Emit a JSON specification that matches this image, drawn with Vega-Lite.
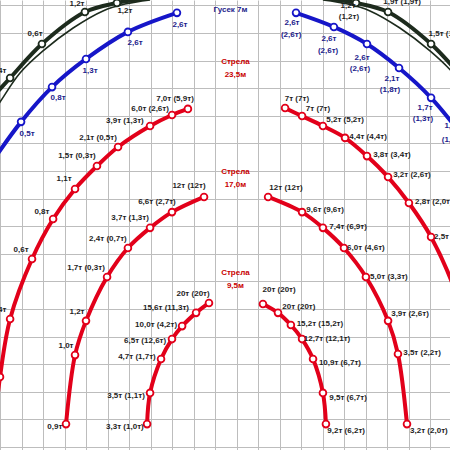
{
  "$schema": "https://vega.github.io/schema/vega-lite/v6.json",
  "width": 450,
  "height": 450,
  "autosize": "none",
  "padding": 0,
  "background": "white",
  "config": {"view": {"stroke": null}},
  "resolve": {"scale": {"color": "independent", "stroke": "independent"}},
  "datasets": {
    "curves": [
      {"id": "outer-L", "c": "outer", "i": 0, "x": -11.47, "y": 12.57, "m": false},
      {"id": "outer-L", "c": "outer", "i": 1, "x": -10.53, "y": 13.37, "m": true},
      {"id": "outer-L", "c": "outer", "i": 2, "x": -9.05, "y": 14.6, "m": true},
      {"id": "outer-L", "c": "outer", "i": 3, "x": -7.05, "y": 15.76, "m": true},
      {"id": "outer-L", "c": "outer", "i": 4, "x": -5.56, "y": 16.09, "m": true},
      {"id": "outer-L", "c": "outer", "i": 5, "x": -4.26, "y": 16.25, "m": false},
      {"id": "outer-R", "c": "outer", "i": 0, "x": 11.47, "y": 12.57, "m": false},
      {"id": "outer-R", "c": "outer", "i": 1, "x": 10.53, "y": 13.37, "m": true},
      {"id": "outer-R", "c": "outer", "i": 2, "x": 9.05, "y": 14.6, "m": true},
      {"id": "outer-R", "c": "outer", "i": 3, "x": 7.05, "y": 15.76, "m": true},
      {"id": "outer-R", "c": "outer", "i": 4, "x": 5.56, "y": 16.09, "m": true},
      {"id": "outer-R", "c": "outer", "i": 5, "x": 4.26, "y": 16.25, "m": false},
      {"id": "thin-L", "c": "thin", "i": 0, "x": -11.47, "y": 11.96, "m": false},
      {"id": "thin-L", "c": "thin", "i": 1, "x": -11.0, "y": 12.5, "m": false},
      {"id": "thin-L", "c": "thin", "i": 2, "x": -10.07, "y": 13.55, "m": false},
      {"id": "thin-L", "c": "thin", "i": 3, "x": -9.0, "y": 14.35, "m": false},
      {"id": "thin-L", "c": "thin", "i": 4, "x": -7.6, "y": 15.18, "m": false},
      {"id": "thin-L", "c": "thin", "i": 5, "x": -6.21, "y": 15.8, "m": false},
      {"id": "thin-L", "c": "thin", "i": 6, "x": -5.19, "y": 16.05, "m": false},
      {"id": "thin-L", "c": "thin", "i": 7, "x": -4.02, "y": 16.2, "m": false},
      {"id": "thin-R", "c": "thin", "i": 0, "x": 11.47, "y": 11.96, "m": false},
      {"id": "thin-R", "c": "thin", "i": 1, "x": 11.0, "y": 12.5, "m": false},
      {"id": "thin-R", "c": "thin", "i": 2, "x": 10.07, "y": 13.55, "m": false},
      {"id": "thin-R", "c": "thin", "i": 3, "x": 9.0, "y": 14.35, "m": false},
      {"id": "thin-R", "c": "thin", "i": 4, "x": 7.6, "y": 15.18, "m": false},
      {"id": "thin-R", "c": "thin", "i": 5, "x": 6.21, "y": 15.8, "m": false},
      {"id": "thin-R", "c": "thin", "i": 6, "x": 5.19, "y": 16.05, "m": false},
      {"id": "thin-R", "c": "thin", "i": 7, "x": 4.02, "y": 16.2, "m": false},
      {"id": "jib-L", "c": "jib7", "i": 0, "x": -11.47, "y": 10.22, "m": false},
      {"id": "jib-L", "c": "jib7", "i": 1, "x": -10.02, "y": 11.78, "m": true},
      {"id": "jib-L", "c": "jib7", "i": 2, "x": -8.58, "y": 13.04, "m": true},
      {"id": "jib-L", "c": "jib7", "i": 3, "x": -7.0, "y": 14.06, "m": true},
      {"id": "jib-L", "c": "jib7", "i": 4, "x": -5.05, "y": 15.04, "m": true},
      {"id": "jib-L", "c": "jib7", "i": 5, "x": -2.77, "y": 15.73, "m": true},
      {"id": "jib-R", "c": "jib7", "i": 0, "x": 2.77, "y": 15.73, "m": true},
      {"id": "jib-R", "c": "jib7", "i": 1, "x": 4.53, "y": 15.22, "m": true},
      {"id": "jib-R", "c": "jib7", "i": 2, "x": 6.07, "y": 14.6, "m": true},
      {"id": "jib-R", "c": "jib7", "i": 3, "x": 7.56, "y": 13.73, "m": true},
      {"id": "jib-R", "c": "jib7", "i": 4, "x": 9.05, "y": 12.65, "m": true},
      {"id": "jib-R", "c": "jib7", "i": 5, "x": 10.4, "y": 11.38, "m": true},
      {"id": "b23-L", "c": "boom", "i": 0, "x": -11.28, "y": 0.62, "m": false},
      {"id": "b23-L", "c": "boom", "i": 1, "x": -11.0, "y": 2.54, "m": true},
      {"id": "b23-L", "c": "boom", "i": 2, "x": -10.53, "y": 4.64, "m": true},
      {"id": "b23-L", "c": "boom", "i": 3, "x": -9.51, "y": 6.81, "m": true},
      {"id": "b23-L", "c": "boom", "i": 4, "x": -8.53, "y": 8.26, "m": true},
      {"id": "b23-L", "c": "boom", "i": 5, "x": -7.51, "y": 9.35, "m": true},
      {"id": "b23-L", "c": "boom", "i": 6, "x": -6.49, "y": 10.18, "m": true},
      {"id": "b23-L", "c": "boom", "i": 7, "x": -5.51, "y": 10.87, "m": true},
      {"id": "b23-L", "c": "boom", "i": 8, "x": -4.02, "y": 11.63, "m": true},
      {"id": "b23-L", "c": "boom", "i": 9, "x": -3.0, "y": 12.03, "m": true},
      {"id": "b23-L", "c": "boom", "i": 10, "x": -2.26, "y": 12.25, "m": true},
      {"id": "b23-R", "c": "boom", "i": 0, "x": 2.26, "y": 12.28, "m": true},
      {"id": "b23-R", "c": "boom", "i": 1, "x": 3.05, "y": 11.99, "m": true},
      {"id": "b23-R", "c": "boom", "i": 2, "x": 4.02, "y": 11.63, "m": true},
      {"id": "b23-R", "c": "boom", "i": 3, "x": 5.05, "y": 11.2, "m": true},
      {"id": "b23-R", "c": "boom", "i": 4, "x": 6.07, "y": 10.54, "m": true},
      {"id": "b23-R", "c": "boom", "i": 5, "x": 7.05, "y": 9.78, "m": true},
      {"id": "b23-R", "c": "boom", "i": 6, "x": 8.02, "y": 8.84, "m": true},
      {"id": "b23-R", "c": "boom", "i": 7, "x": 9.05, "y": 7.61, "m": true},
      {"id": "b23-R", "c": "boom", "i": 8, "x": 10.2, "y": 5.6, "m": true},
      {"id": "b23-R", "c": "boom", "i": 9, "x": 10.8, "y": 4.0, "m": false},
      {"id": "b17-L", "c": "boom", "i": 0, "x": -7.93, "y": 0.83, "m": true},
      {"id": "b17-L", "c": "boom", "i": 1, "x": -7.51, "y": 3.33, "m": true},
      {"id": "b17-L", "c": "boom", "i": 2, "x": -7.0, "y": 4.57, "m": true},
      {"id": "b17-L", "c": "boom", "i": 3, "x": -6.02, "y": 6.16, "m": true},
      {"id": "b17-L", "c": "boom", "i": 4, "x": -5.05, "y": 7.21, "m": true},
      {"id": "b17-L", "c": "boom", "i": 5, "x": -4.02, "y": 7.94, "m": true},
      {"id": "b17-L", "c": "boom", "i": 6, "x": -3.0, "y": 8.51, "m": true},
      {"id": "b17-L", "c": "boom", "i": 7, "x": -1.51, "y": 9.06, "m": true},
      {"id": "b17-R", "c": "boom", "i": 0, "x": 1.47, "y": 9.06, "m": true},
      {"id": "b17-R", "c": "boom", "i": 1, "x": 3.05, "y": 8.51, "m": true},
      {"id": "b17-R", "c": "boom", "i": 2, "x": 4.02, "y": 7.94, "m": true},
      {"id": "b17-R", "c": "boom", "i": 3, "x": 5.0, "y": 7.21, "m": true},
      {"id": "b17-R", "c": "boom", "i": 4, "x": 6.02, "y": 6.16, "m": true},
      {"id": "b17-R", "c": "boom", "i": 5, "x": 7.05, "y": 4.57, "m": true},
      {"id": "b17-R", "c": "boom", "i": 6, "x": 7.51, "y": 3.37, "m": true},
      {"id": "b17-R", "c": "boom", "i": 7, "x": 7.93, "y": 0.83, "m": true},
      {"id": "b9-L", "c": "boom", "i": 0, "x": -4.16, "y": 0.83, "m": true},
      {"id": "b9-L", "c": "boom", "i": 1, "x": -4.02, "y": 1.96, "m": true},
      {"id": "b9-L", "c": "boom", "i": 2, "x": -3.51, "y": 3.19, "m": true},
      {"id": "b9-L", "c": "boom", "i": 3, "x": -3.0, "y": 3.91, "m": true},
      {"id": "b9-L", "c": "boom", "i": 4, "x": -2.53, "y": 4.38, "m": true},
      {"id": "b9-L", "c": "boom", "i": 5, "x": -1.88, "y": 4.86, "m": true},
      {"id": "b9-L", "c": "boom", "i": 6, "x": -1.28, "y": 5.22, "m": true},
      {"id": "b9-R", "c": "boom", "i": 0, "x": 1.23, "y": 5.18, "m": true},
      {"id": "b9-R", "c": "boom", "i": 1, "x": 1.93, "y": 4.86, "m": true},
      {"id": "b9-R", "c": "boom", "i": 2, "x": 2.53, "y": 4.42, "m": true},
      {"id": "b9-R", "c": "boom", "i": 3, "x": 3.05, "y": 3.91, "m": true},
      {"id": "b9-R", "c": "boom", "i": 4, "x": 3.56, "y": 3.19, "m": true},
      {"id": "b9-R", "c": "boom", "i": 5, "x": 4.02, "y": 1.96, "m": true},
      {"id": "b9-R", "c": "boom", "i": 6, "x": 4.16, "y": 0.83, "m": true}
    ],
    "labels": [
      {"t": "1,2т", "x": -7.42, "y": 16.05, "k": "dark"},
      {"t": "1,2т", "x": -5.19, "y": 15.8, "k": "dark"},
      {"t": "0,6т", "x": -9.37, "y": 14.96, "k": "dark"},
      {"t": "0,4т", "x": -11.05, "y": 13.62, "k": "dark"},
      {"t": "1,2т", "x": 5.19, "y": 15.98, "k": "dark"},
      {"t": "(1,2т)", "x": 5.23, "y": 15.58, "k": "dark"},
      {"t": "1,9т (1,9т)", "x": 7.7, "y": 16.12, "k": "dark"},
      {"t": "1,5т (1,5т)", "x": 9.81, "y": 14.96, "k": "dark"},
      {"t": "2,6т", "x": -2.63, "y": 15.29, "k": "blue"},
      {"t": "2,6т", "x": -4.72, "y": 14.64, "k": "blue"},
      {"t": "1,3т", "x": -6.81, "y": 13.62, "k": "blue"},
      {"t": "0,8т", "x": -8.3, "y": 12.65, "k": "blue"},
      {"t": "0,5т", "x": -9.74, "y": 11.34, "k": "blue"},
      {"t": "2,6т", "x": 2.58, "y": 15.36, "k": "blue"},
      {"t": "(2,6т)", "x": 2.54, "y": 14.93, "k": "blue"},
      {"t": "2,6т", "x": 4.3, "y": 14.78, "k": "blue"},
      {"t": "(2,6т)", "x": 4.26, "y": 14.35, "k": "blue"},
      {"t": "2,6т", "x": 5.84, "y": 14.09, "k": "blue"},
      {"t": "(2,6т)", "x": 5.74, "y": 13.7, "k": "blue"},
      {"t": "2,1т", "x": 7.23, "y": 13.33, "k": "blue"},
      {"t": "(1,8т)", "x": 7.14, "y": 12.94, "k": "blue"},
      {"t": "1,7т", "x": 8.77, "y": 12.28, "k": "blue"},
      {"t": "(1,3т)", "x": 8.67, "y": 11.88, "k": "blue"},
      {"t": "1,0т", "x": 10.02, "y": 11.63, "k": "blue"},
      {"t": "(1,0т)", "x": 10.02, "y": 11.12, "k": "blue"},
      {"t": "Гусек 7м", "x": -0.28, "y": 15.83, "k": "title-blue"},
      {"t": "Стрела", "x": -0.05, "y": 13.95, "k": "title-red"},
      {"t": "23,5м", "x": -0.05, "y": 13.48, "k": "title-red"},
      {"t": "Стрела", "x": -0.05, "y": 9.96, "k": "title-red"},
      {"t": "17,0м", "x": -0.05, "y": 9.51, "k": "title-red"},
      {"t": "Стрела", "x": -0.05, "y": 6.3, "k": "title-red"},
      {"t": "9,5м", "x": -0.05, "y": 5.83, "k": "title-red"},
      {"t": "7,0т (5,9т)", "x": -2.86, "y": 12.61, "k": "dark"},
      {"t": "6,0т (2,6т)", "x": -4.02, "y": 12.25, "k": "dark"},
      {"t": "3,9т (1,3т)", "x": -5.19, "y": 11.81, "k": "dark"},
      {"t": "2,1т (0,5т)", "x": -6.44, "y": 11.2, "k": "dark"},
      {"t": "1,5т (0,3т)", "x": -7.42, "y": 10.54, "k": "dark"},
      {"t": "1,1т", "x": -8.02, "y": 9.71, "k": "dark"},
      {"t": "0,8т", "x": -9.05, "y": 8.51, "k": "dark"},
      {"t": "0,6т", "x": -10.02, "y": 7.14, "k": "dark"},
      {"t": "0,4т", "x": -11.05, "y": 4.96, "k": "dark"},
      {"t": "7т (7т)", "x": 2.81, "y": 12.61, "k": "dark"},
      {"t": "7т (7т)", "x": 3.79, "y": 12.25, "k": "dark"},
      {"t": "5,2т (5,2т)", "x": 5.05, "y": 11.85, "k": "dark"},
      {"t": "4,4т (4,4т)", "x": 6.12, "y": 11.23, "k": "dark"},
      {"t": "3,8т (3,4т)", "x": 7.23, "y": 10.58, "k": "dark"},
      {"t": "3,2т (2,6т)", "x": 8.16, "y": 9.86, "k": "dark"},
      {"t": "2,8т (2,0т)", "x": 9.18, "y": 8.88, "k": "dark"},
      {"t": "2,5т (1,6т)", "x": 10.06, "y": 7.61, "k": "dark"},
      {"t": "12т (12т)", "x": -2.21, "y": 9.46, "k": "dark"},
      {"t": "6,6т (2,7т)", "x": -3.7, "y": 8.88, "k": "dark"},
      {"t": "3,7т (1,3т)", "x": -4.95, "y": 8.3, "k": "dark"},
      {"t": "2,4т (0,7т)", "x": -5.98, "y": 7.54, "k": "dark"},
      {"t": "1,7т (0,3т)", "x": -7.0, "y": 6.49, "k": "dark"},
      {"t": "1,2т", "x": -7.42, "y": 4.89, "k": "dark"},
      {"t": "1,0т", "x": -7.93, "y": 3.66, "k": "dark"},
      {"t": "0,9т", "x": -8.45, "y": 0.73, "k": "dark"},
      {"t": "12т (12т)", "x": 2.3, "y": 9.38, "k": "dark"},
      {"t": "9,6т (9,6т)", "x": 4.12, "y": 8.59, "k": "dark"},
      {"t": "7,4т (6,9т)", "x": 5.19, "y": 7.97, "k": "dark"},
      {"t": "6,0т (4,6т)", "x": 6.02, "y": 7.21, "k": "dark"},
      {"t": "5,0т (3,3т)", "x": 7.09, "y": 6.16, "k": "dark"},
      {"t": "3,9т (2,6т)", "x": 8.07, "y": 4.82, "k": "dark"},
      {"t": "3,5т (2,2т)", "x": 8.63, "y": 3.41, "k": "dark"},
      {"t": "3,2т (2,0т)", "x": 8.95, "y": 0.58, "k": "dark"},
      {"t": "20т (20т)", "x": -2.02, "y": 5.54, "k": "dark"},
      {"t": "15,6т (11,3т)", "x": -3.28, "y": 5.04, "k": "dark"},
      {"t": "10,0т (4,2т)", "x": -3.74, "y": 4.42, "k": "dark"},
      {"t": "6,5т (12,6т)", "x": -4.25, "y": 3.84, "k": "dark"},
      {"t": "4,7т (1,7т)", "x": -4.63, "y": 3.26, "k": "dark"},
      {"t": "3,5т (1,1т)", "x": -5.14, "y": 1.85, "k": "dark"},
      {"t": "3,3т (1,0т)", "x": -5.19, "y": 0.73, "k": "dark"},
      {"t": "20т (20т)", "x": 1.98, "y": 5.69, "k": "dark"},
      {"t": "20т (20т)", "x": 2.9, "y": 5.07, "k": "dark"},
      {"t": "15,2т (15,2т)", "x": 3.88, "y": 4.46, "k": "dark"},
      {"t": "12,7т (12,1т)", "x": 4.21, "y": 3.91, "k": "dark"},
      {"t": "10,9т (6,7т)", "x": 4.81, "y": 3.04, "k": "dark"},
      {"t": "9,5т (6,7т)", "x": 5.19, "y": 1.78, "k": "dark"},
      {"t": "9,2т (6,2т)", "x": 5.1, "y": 0.58, "k": "dark"}
    ]
  },
  "encoding": {
    "x": {
      "field": "x", "type": "quantitative",
      "scale": {"domain": [-11, 9.9302], "nice": false, "zero": false},
      "axis": {"values": [-11, -10, -9, -8, -7, -6, -5, -4, -3, -2, -1, 0, 1, 2, 3, 4, 5, 6, 7, 8, 9], "grid": true, "gridColor": "#bdbdbd", "gridWidth": 1, "labels": false, "ticks": false, "domain": false, "title": null}
    },
    "y": {
      "field": "y", "type": "quantitative",
      "scale": {"domain": [-0.1087, 16.1957], "nice": false, "zero": false},
      "axis": {"values": [0, 1, 2, 3, 4, 5, 6, 7, 8, 9, 10, 11, 12, 13, 14, 15, 16], "grid": true, "gridColor": "#bdbdbd", "gridWidth": 1, "labels": false, "ticks": false, "domain": false, "title": null}
    }
  },
  "layer": [
    {
      "data": {"name": "curves"},
      "transform": [{"filter": "datum.c == 'thin'"}],
      "mark": {"type": "line", "interpolate": "catmull-rom", "strokeWidth": 1.6, "color": "#1d2b1d"},
      "encoding": {"detail": {"field": "id"}, "order": {"field": "i", "type": "quantitative"}}
    },
    {
      "data": {"name": "curves"},
      "transform": [{"filter": "datum.c != 'thin'"}],
      "mark": {"type": "line", "interpolate": "catmull-rom", "strokeWidth": 4, "strokeCap": "round"},
      "encoding": {
        "detail": {"field": "id"},
        "order": {"field": "i", "type": "quantitative"},
        "color": {"field": "c", "type": "nominal", "scale": {"domain": ["outer", "jib7", "boom"], "range": ["#1d2b1d", "#1616c8", "#e2001a"]}, "legend": null}
      }
    },
    {
      "data": {"name": "curves"},
      "transform": [{"filter": "datum.m"}],
      "mark": {"type": "point", "shape": "circle", "filled": true, "fill": "white", "size": 46, "strokeWidth": 1.8, "opacity": 1},
      "encoding": {
        "stroke": {"field": "c", "type": "nominal", "scale": {"domain": ["outer", "jib7", "boom"], "range": ["#1d2b1d", "#1616c8", "#e2001a"]}, "legend": null}
      }
    },
    {
      "data": {"name": "labels"},
      "mark": {"type": "text", "font": "Liberation Sans", "fontSize": 8, "fontWeight": "bold", "align": "center", "baseline": "middle"},
      "encoding": {
        "text": {"field": "t"},
        "color": {"field": "k", "type": "nominal", "scale": {"domain": ["dark", "blue", "title-blue", "title-red"], "range": ["#1e1e1e", "#1c1c8c", "#1c1c8c", "#c80000"]}, "legend": null}
      }
    }
  ]
}
